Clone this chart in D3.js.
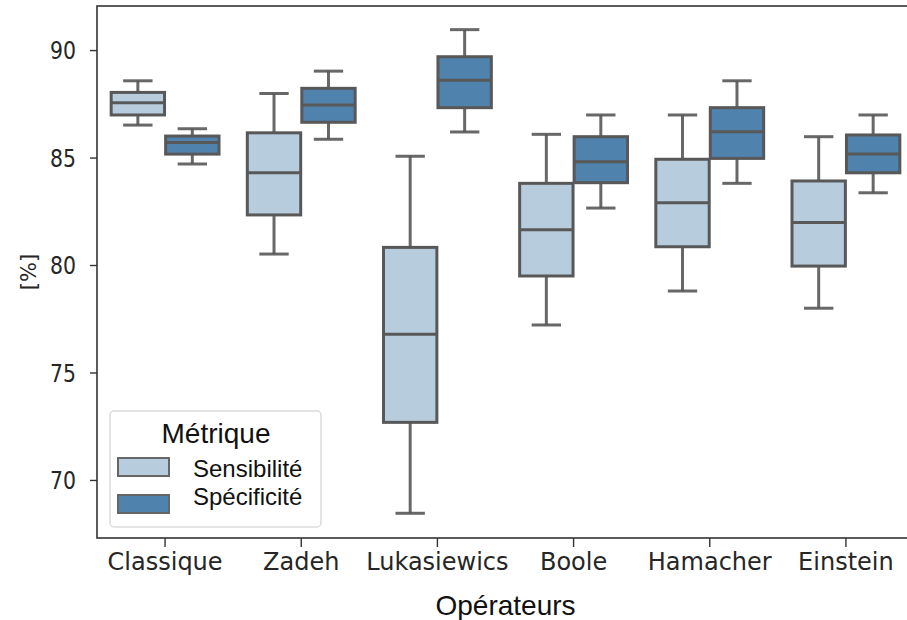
<!DOCTYPE html>
<html>
<head>
<meta charset="utf-8">
<script src="https://cdn.jsdelivr.net/npm/d3@7"></script>
<style>
  html, body { margin: 0; padding: 0; background: #fff; }
  svg { display: block; }
</style>
</head>
<body>
<svg id="chart" width="907" height="620"></svg>
<script>
// ---------- data ----------
const categories = ["Classique", "Zadeh", "Lukasiewics", "Boole", "Hamacher", "Einstein"];
const seriesNames = ["Sensibilité", "Spécificité"];
// five-number summaries per category: [min, q1, median, q3, max]
const sensibilite = [
  [86.51, 86.98, 87.55, 88.03, 88.57],
  [80.51, 82.33, 84.29, 86.15, 87.98],
  [68.45, 72.68, 76.78, 80.82, 85.06],
  [77.21, 79.49, 81.64, 83.80, 86.08],
  [78.79, 80.85, 82.90, 84.92, 86.98],
  [77.99, 79.95, 81.98, 83.91, 85.97]
];
const specificite = [
  [84.70, 85.16, 85.70, 86.00, 86.34],
  [85.85, 86.64, 87.44, 88.22, 89.02],
  [86.19, 87.32, 88.59, 89.69, 90.95],
  [82.65, 83.83, 84.80, 85.97, 86.98],
  [83.80, 84.96, 86.20, 87.32, 88.57],
  [83.36, 84.29, 85.16, 86.05, 86.98]
];
const yTicks = [70, 75, 80, 85, 90];
const colors = ["#b7cdde", "#4f82ad"];

// ---------- layout ----------
const svg = d3.select("#chart");
const mLeft = 97, mRight = 914, mTop = 6, mBottom = 538;

const x = d3.scaleBand().domain(categories).range([mLeft, mRight]).padding(0);
const hue = d3.scaleBand().domain(seriesNames).range([-0.4, 0.4]);
const y = d3.scaleLinear().domain([67.3, 92.05]).range([mBottom, mTop]);

const step = x.bandwidth();
const boxW = hue.bandwidth() * step * 0.98;
const capW = boxW * 0.55;
const edge = "#585858";

const data = [];
categories.forEach((c, i) => {
  [sensibilite, specificite].forEach((arr, s) => {
    const [mn, q1, md, q3, mx] = arr[i];
    data.push({ c, s, mn, q1, md, q3, mx });
  });
});

const g = svg.append("g");
const boxes = g.selectAll("g.box").data(data).join("g").attr("class", "box");
const cx = d => x(d.c) + step / 2 + (hue(seriesNames[d.s]) + hue.bandwidth() / 2) * step;

// whiskers
boxes.append("line")
  .attr("x1", cx).attr("x2", cx)
  .attr("y1", d => y(d.q3)).attr("y2", d => y(d.mx))
  .attr("stroke", edge).attr("stroke-width", 3).attr("stroke-opacity", 0.9);
boxes.append("line")
  .attr("x1", cx).attr("x2", cx)
  .attr("y1", d => y(d.q1)).attr("y2", d => y(d.mn))
  .attr("stroke", edge).attr("stroke-width", 3).attr("stroke-opacity", 0.9);
// caps
boxes.append("line")
  .attr("x1", d => cx(d) - capW / 2).attr("x2", d => cx(d) + capW / 2)
  .attr("y1", d => y(d.mx)).attr("y2", d => y(d.mx))
  .attr("stroke", edge).attr("stroke-width", 3).attr("stroke-opacity", 0.9);
boxes.append("line")
  .attr("x1", d => cx(d) - capW / 2).attr("x2", d => cx(d) + capW / 2)
  .attr("y1", d => y(d.mn)).attr("y2", d => y(d.mn))
  .attr("stroke", edge).attr("stroke-width", 3).attr("stroke-opacity", 0.9);
// box
boxes.append("rect")
  .attr("x", d => cx(d) - boxW / 2)
  .attr("width", boxW)
  .attr("y", d => y(d.q3))
  .attr("height", d => y(d.q1) - y(d.q3))
  .attr("fill", d => colors[d.s])
  .attr("stroke", edge).attr("stroke-width", 3);
// median
boxes.append("line")
  .attr("x1", d => cx(d) - boxW / 2).attr("x2", d => cx(d) + boxW / 2)
  .attr("y1", d => y(d.md)).attr("y2", d => y(d.md))
  .attr("stroke", edge).attr("stroke-width", 3);

// ---------- axes ----------
const xAxis = svg.append("g")
  .attr("transform", `translate(0,${mBottom})`)
  .call(d3.axisBottom(x).tickSize(9).tickPadding(6).tickSizeOuter(0));
xAxis.select(".domain").remove();
xAxis.selectAll(".tick line").attr("stroke", "#333").attr("stroke-width", 1.4);
xAxis.selectAll(".tick text")
  .attr("fill", "#262626")
  .style("font-family", "'DejaVu Sans', sans-serif")
  .style("font-size", "24px");

const yAxis = svg.append("g")
  .attr("transform", `translate(${mLeft},0)`)
  .call(d3.axisLeft(y).tickValues(yTicks).tickSize(7).tickSizeOuter(0));
yAxis.select(".domain").remove();
yAxis.selectAll(".tick line").attr("stroke", "#333").attr("stroke-width", 1.4);
yAxis.selectAll(".tick text")
  .attr("fill", "#262626")
  .attr("x", -21 / 0.85)
  .attr("dy", "0.36em")
  .attr("transform", "scale(0.85,1)")
  .style("font-family", "'DejaVu Sans', sans-serif")
  .style("font-size", "24px");

// frame
svg.append("rect")
  .attr("x", mLeft).attr("y", mTop)
  .attr("width", mRight - mLeft).attr("height", mBottom - mTop)
  .attr("fill", "none").attr("stroke", "#333").attr("stroke-width", 1.6);

// axis titles
svg.append("text")
  .attr("x", (mLeft + mRight) / 2).attr("y", 615)
  .attr("text-anchor", "middle")
  .style("font-family", "'Liberation Sans', Arial, sans-serif")
  .style("font-size", "28px")
  .attr("fill", "#111")
  .text("Opérateurs");

svg.append("text")
  .attr("transform", `translate(36,${(mTop + mBottom) / 2}) rotate(-90)`)
  .attr("text-anchor", "middle")
  .style("font-family", "'DejaVu Sans', sans-serif")
  .style("font-size", "21px")
  .attr("fill", "#262626")
  .text("[%]");

// ---------- legend ----------
const lg = svg.append("g");
lg.append("rect")
  .attr("x", 110).attr("y", 411).attr("width", 211).attr("height", 116)
  .attr("rx", 4).attr("fill", "#fff").attr("fill-opacity", 0.85)
  .attr("stroke", "#dcdcdc").attr("stroke-width", 1.5);
lg.append("text")
  .attr("x", 216).attr("y", 443)
  .attr("text-anchor", "middle")
  .style("font-family", "'Liberation Sans', Arial, sans-serif")
  .style("font-size", "28px")
  .attr("fill", "#111")
  .text("Métrique");
const items = lg.selectAll("g.item").data(seriesNames).join("g").attr("class", "item")
  .attr("transform", (d, i) => `translate(0,${i * 37})`);
items.append("rect")
  .attr("x", 118).attr("y", 458).attr("width", 51).attr("height", 18)
  .attr("fill", (d, i) => colors[i])
  .attr("stroke", "#666").attr("stroke-width", 2);
items.append("text")
  .attr("x", 193).attr("y", (d, i) => 477 - i * 9)
  .style("font-family", "'Liberation Sans', Arial, sans-serif")
  .style("font-size", "24px")
  .attr("fill", "#111")
  .text(d => d);
</script>
</body>
</html>
